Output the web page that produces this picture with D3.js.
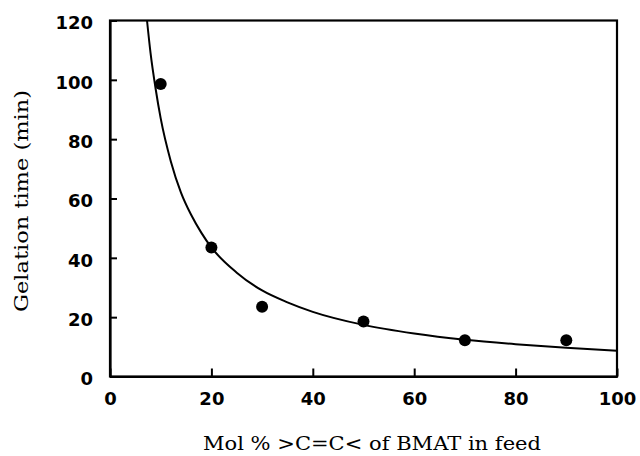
<!DOCTYPE html>
<html><head><meta charset="utf-8">
<script src="https://cdn.jsdelivr.net/npm/d3@7"></script>
<style>body{margin:0;background:#fff}</style>
</head><body>
<svg id="c" width="640" height="456"></svg>
<script>
// Measured points
const pointX = [10, 20, 30, 50, 70, 90];
const pointY = [98.6, 43.5, 23.5, 18.5, 12.2, 12.2];
// Fitted curve
const curveX = [7.3, 8, 9, 10, 12, 14, 16, 18, 20, 25, 30, 35, 40, 50, 60, 70, 80, 90, 100];
const curveY = [120, 109, 97, 87, 72.5, 62, 54.5, 48.5, 43.5, 35, 29, 25, 21.8, 17.4, 14.5, 12.4, 10.9, 9.7, 8.7];
const xTicks = [0, 20, 40, 60, 80, 100];
const yTicks = [0, 20, 40, 60, 80, 100, 120];

const svg = d3.select("#c");
const L = 110, R = 617, T = 20.5, B = 376.5;
const x = d3.scaleLinear().domain([0, 100]).range([L, R]);
const y = d3.scaleLinear().domain([0, 120]).range([B, T]);

// frame
svg.append("rect").attr("x", L).attr("y", T).attr("width", R - L).attr("height", B - T)
  .attr("fill", "none").attr("stroke", "#000").attr("stroke-width", 2.2);

const tickFont = "'DejaVu Sans', sans-serif";
const xAxis = svg.append("g").attr("transform", `translate(0,${B})`)
  .call(d3.axisBottom(x).tickValues(xTicks).tickSizeInner(-8).tickSizeOuter(0).tickPadding(16));
const yAxis = svg.append("g").attr("transform", `translate(${L},0)`)
  .call(d3.axisLeft(y).tickValues(yTicks).tickSizeInner(-7).tickSizeOuter(0).tickPadding(17));
[xAxis, yAxis].forEach(g => {
  g.select(".domain").attr("stroke", "#000").attr("stroke-width", 2.2);
  g.selectAll(".tick line").attr("stroke", "#000").attr("stroke-width", 2);
  g.selectAll(".tick text").attr("fill", "#000").style("font-family", tickFont)
    .style("font-size", "18px").style("font-weight", "bold");
});
yAxis.selectAll(".tick text").attr("dy", "0.47em");
xAxis.selectAll(".tick text").attr("dy", "0.71em");

// curve
const line = d3.line().x(d => x(d[0])).y(d => y(d[1])).curve(d3.curveMonotoneX);
svg.append("path").datum(curveX.map((v, i) => [v, curveY[i]]))
  .attr("d", line).attr("fill", "none").attr("stroke", "#000").attr("stroke-width", 2);

// points
svg.selectAll("circle.pt").data(pointX.map((v, i) => [v, pointY[i]])).enter()
  .append("circle").attr("class", "pt").attr("cx", d => x(d[0])).attr("cy", d => y(d[1]))
  .attr("r", 6).attr("fill", "#000");

const serif = "'DejaVu Serif', 'Liberation Serif', serif";
svg.append("text").attr("x", 372).attr("y", 450).attr("text-anchor", "middle")
  .style("font-family", serif).style("font-size", "18.5px")
  .attr("textLength", 338).attr("lengthAdjust", "spacingAndGlyphs")
  .text("Mol % >C=C< of BMAT in feed");
svg.append("text").attr("transform", "translate(28,201) rotate(-90)").attr("text-anchor", "middle")
  .style("font-family", serif).style("font-size", "18.5px")
  .attr("textLength", 222).attr("lengthAdjust", "spacingAndGlyphs")
  .text("Gelation time (min)");
</script>
</body></html>
